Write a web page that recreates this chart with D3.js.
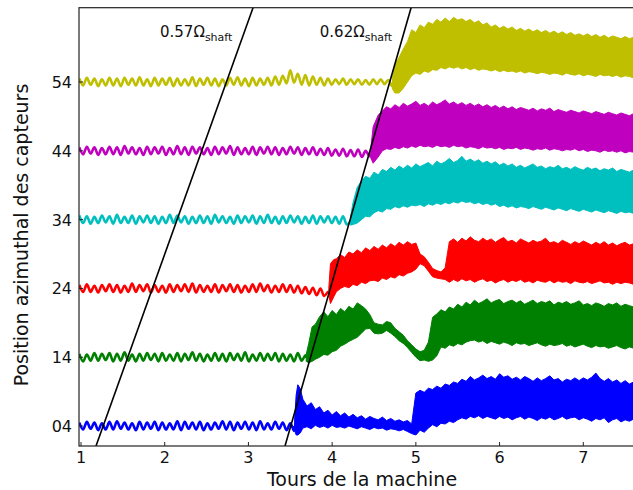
<!DOCTYPE html>
<html><head><meta charset="utf-8">
<script src="https://cdn.jsdelivr.net/npm/d3@7"></script>
<style>body{margin:0;background:#fff}svg{display:block}text{font-family:"DejaVu Sans",sans-serif;fill:#111}</style>
</head><body><svg id="c" width="633" height="490"></svg>
<script>
// ---- data ----
const sensorLabels = ["04","14","24","34","44","54"];
const baselines = [4,14,24,34,44,54];
const seriesColors = ["#0000ff","#008000","#ff0000","#00bfbf","#bf00bf","#bfbf00"];
const xTicks = [1,2,3,4,5,6,7];
const xLabel = "Tours de la machine";
const yLabel = "Position azimuthal des capteurs";
const waveStart = 0.98, waveStep = 0.045, bandStep = 0.05;
// pre-onset oscillation, offsets from baseline in tenths
const blueWave = [5,-5,6,-4,5,-6,4,-5,6,-5,7,-4,5,-5,4,-6,6,-5,5,-4,6,-6,5,-5,4,-5,7,-6,6,-4,5,-5,6,-6,4,-5,5,-4,7,-5,6,-6,5,-4,6,-5,5,-6,7,-5,4,-5,6,-4,5,-6,4,-7];
const greenWave = [5,-6,4,-5,6,-5,5,-4,6,-6,5,-5,7,-5,4,-6,5,-5,6,-4,5,-6,6,-5,4,-5,6,-6,5,-4,7,-5,5,-6,4,-5,6,-5,5,-6,6,-4,5,-5,7,-6,4,-5,6,-5,5,-4,6,-6,5,-5,4,-6,6,-5,3];
const redWave = [5,-5,6,-5,4,-6,5,-4,6,-5,5,-6,4,-5,7,-5,5,-4,6,-6,5,-5,4,-6,6,-5,5,-4,6,-5,7,-6,5,-5,4,-5,6,-6,5,-4,6,-5,5,-6,4,-5,6,-5,7,-4,5,-6,4,-5,6,-5,5,-6,4,-7,2,-8,1,-10,0,-11,-5];
const cyanWave = [6,-5,5,-6,4,-5,6,-4,5,-6,7,-5,4,-5,6,-6,5,-4,6,-5,5,-6,4,-5,7,-5,6,-4,5,-6,4,-5,6,-5,5,-6,7,-4,5,-5,4,-6,6,-5,5,-4,6,-6,5,-5,7,-5,4,-6,5,-5,6,-4,5,-6,4,-5,6,-6,5,-4,5,-5,4,-6,5,-7,-2];
const magentaWave = [5,-5,6,-4,5,-6,4,-5,6,-5,5,-6,7,-4,5,-5,4,-6,6,-5,5,-4,6,-6,4,-5,7,-5,5,-6,6,-4,5,-5,4,-6,6,-5,5,-4,7,-6,5,-5,4,-5,6,-6,5,-4,6,-5,5,-6,4,-5,6,-4,5,-6,4,-5,5,-6,3,-6,4,-7,2,-7,3,-8,1,-8,2,-9,0,-8];
const yellowWave = [5,-5,6,-4,5,-6,4,-5,6,-5,5,-6,6,-4,5,-5,7,-5,4,-6,6,-5,5,-4,6,-6,5,-5,4,-5,7,-6,5,-4,6,-5,5,-6,4,-5,6,-4,7,-5,5,-6,6,-5,5,-4,6,-5,8,-4,9,-2,17,-1,12,-4,10,-5,8,-4,6,-5,5,-4,4,-3,5,-4,4,-3,4,-4,3,-4,4,-3,4,-3,3,-6];
// onset: [turns, low offset, high offset]
const blueHead = [[3.55,-0.5,0.5],[3.57,-1.3,4.5],[3.59,-1.3,6.0],[3.62,-1.0,5.4]];
const greenHead = [[3.69,-0.6,0.4],[3.72,-0.8,2.0],[3.76,-0.6,4.4]];
const redHead = [[3.96,-1.0,0.0],[3.98,-2.2,3.6],[4.02,-1.2,4.2]];
const cyanHead = [[4.22,-0.8,0.5],[4.25,-0.7,2.5],[4.3,-0.5,4.7]];
const magentaHead = [[4.46,-1.0,0.2],[4.49,-1.8,3.5],[4.55,-0.9,5.2]];
const yellowHead = [[4.72,-1.0,0.5],[4.75,-1.6,2.5],[4.8,-1.6,3.6],[4.85,-0.9,4.8]];
// noise envelope after onset, sampled every 0.05 turn from the start turn
const bandStart = [3.65, 3.80, 4.05, 4.35, 4.60, 4.90];
const blueHi = [3.9,2.9,3.4,2.4,2.8,1.9,2.3,1.6,2.1,1.5,1.9,1.3,1.7,1.2,1.5,1.0,1.4,1.1,0.9,1.3,0.8,1.1,0.7,0.9,0.6,0.8,0.3,
  4.8,5.2,4.9,5.5,5.3,5.8,5.5,6.1,5.9,6.4,6.2,6.8,6.5,7.2,6.7,7.0,7.4,6.9,7.2,6.8,7.6,7.1,7.3,6.8,7.1,6.7,7.2,6.9,6.5,7.0,6.6,6.9,7.3,6.7,6.9,6.4,6.8,6.6,7.0,6.6,7.0,6.7,7.1,7.7,6.9,6.5,6.9,6.4,6.7,6.2,6.6,6.1,6.4,6.2,6.4];
const blueLo = [-0.3,-0.1,-0.4,0.1,-0.2,0.0,-0.3,0.1,-0.2,-0.1,-0.3,0.0,-0.2,-0.4,-0.1,-0.3,-0.5,-0.2,-0.4,-0.3,-0.6,-0.4,-0.5,-0.7,-0.5,-0.8,-1.1,
  -1.3,-0.6,-0.9,-0.3,0.2,-0.1,0.4,0.3,0.7,0.5,0.9,1.2,1.0,1.4,1.2,1.5,1.1,1.4,1.2,1.0,1.4,1.1,1.3,0.9,1.2,1.4,1.0,1.3,1.1,0.8,1.2,1.0,1.3,0.9,1.1,1.4,1.0,1.2,1.3,0.9,1.2,1.0,0.7,1.1,0.9,1.2,0.5,0.9,1.1,0.6,0.9,0.7,1.0,0.6,0.9];
const greenHi = [4.8,5.9,6.6,5.9,6.8,6.2,7.1,6.6,7.4,7.0,7.9,7.5,7.0,6.2,5.0,4.8,4.7,5.2,5.0,4.2,3.7,3.2,2.4,1.8,1.2,0.8,1.0,2.2,5.8,6.3,6.9,6.6,7.3,7.0,7.7,7.3,8.0,7.6,8.3,7.8,8.1,8.5,7.9,8.2,8.4,7.8,8.1,8.3,7.9,8.2,7.7,8.0,8.3,7.8,8.1,7.9,8.2,7.6,8.0,7.8,8.1,7.7,7.9,8.2,7.6,7.8,7.5,7.9,7.7,7.4,7.8,7.6,7.9,7.4,7.7,7.5,7.3,7.6,7.5];
const greenLo = [-0.3,0.0,0.4,0.3,0.8,1.0,1.6,1.9,2.3,2.6,2.9,3.5,4.1,4.2,3.5,3.4,3.5,3.9,3.5,3.0,2.4,2.0,1.4,0.7,0.0,-0.5,-0.4,-0.6,-0.4,0.2,1.5,1.3,1.8,1.6,2.0,1.8,2.2,2.4,2.5,2.2,2.4,2.0,2.3,2.1,1.9,2.2,2.0,1.7,2.1,1.9,2.0,1.7,1.9,2.1,1.8,1.6,1.9,1.7,1.8,2.0,1.6,1.8,1.5,1.7,1.9,1.6,1.4,1.7,1.5,1.6,1.3,1.5,1.7,1.4,1.2,1.5,1.3,1.4,1.2];
const redHi = [4.3,4.9,4.5,5.3,5.0,5.6,5.2,5.9,5.5,6.1,5.7,6.3,5.9,6.5,6.1,6.7,6.3,6.8,6.4,6.6,5.0,4.6,3.8,2.9,2.6,2.4,3.0,6.8,7.2,6.7,7.3,6.9,7.5,7.0,6.8,7.3,6.9,7.2,6.7,7.1,7.4,6.8,7.0,6.6,7.2,6.9,6.6,7.0,6.7,6.9,7.3,6.6,6.8,6.5,7.0,6.7,6.4,6.8,6.5,6.9,6.6,6.3,6.7,6.4,6.8,6.3,6.6,6.2,6.5,6.7,6.3,6.5,6.2,6.4];
const redLo = [-0.5,0.0,0.3,0.1,0.6,0.4,0.9,0.7,1.1,1.2,1.0,1.5,1.3,1.7,1.5,2.0,1.8,2.2,2.4,2.8,3.6,3.3,2.5,1.7,1.5,1.4,1.3,0.9,1.3,1.0,1.4,1.1,1.3,0.9,1.2,1.4,1.0,1.2,0.8,1.1,1.3,0.9,1.2,1.0,1.3,0.9,1.1,0.8,1.2,1.0,0.9,1.2,0.8,1.1,0.9,1.0,0.7,1.1,0.9,0.8,1.0,0.7,0.9,1.1,0.8,0.9,0.6,0.9,0.7,0.9,0.8,0.6,0.9,0.7];
const cyanHi = [5.6,6.3,6.0,6.9,6.5,7.3,7.0,7.6,7.2,7.8,7.4,7.9,7.5,8.1,7.7,8.0,8.3,7.8,8.5,8.1,8.4,8.9,8.3,8.6,9.2,8.5,8.8,8.4,8.7,8.2,8.5,8.1,8.4,7.9,8.2,7.8,8.1,7.6,7.9,7.5,7.8,8.1,7.6,7.8,7.4,7.7,7.5,7.9,7.4,7.6,7.3,7.7,7.4,7.2,7.6,7.3,7.5,7.1,7.4,7.2,7.5,7.0,7.3,7.1,6.9,7.2,7.0,7.1];
const cyanLo = [0.0,0.5,0.4,1.0,1.3,1.1,1.6,1.5,1.9,1.7,2.0,1.8,2.1,2.0,2.2,1.9,2.3,2.1,2.4,2.2,2.5,2.3,2.6,2.4,2.7,2.5,2.6,2.3,2.5,2.2,2.4,2.1,2.3,1.9,2.1,1.8,2.0,1.7,1.9,1.8,1.6,1.9,1.7,1.5,1.8,1.6,1.4,1.7,1.5,1.3,1.6,1.4,1.2,1.5,1.3,1.1,1.4,1.2,1.0,1.3,1.1,0.9,1.2,1.0,1.1,0.9,1.0,0.9];
const magentaHi = [5.8,6.4,6.1,6.7,6.3,6.9,6.5,6.8,7.2,6.6,6.9,6.5,7.1,6.7,7.0,7.4,6.8,7.1,6.7,7.0,6.6,6.9,6.5,6.8,6.4,6.7,6.3,6.6,6.2,6.5,6.1,6.4,6.0,6.3,6.1,5.9,6.2,5.8,6.1,5.9,6.2,5.7,6.0,5.8,5.6,5.9,5.7,5.5,5.8,5.6,5.4,5.7,5.5,5.3,5.6,5.4,5.2,5.5,5.3,5.1,5.4,5.2,5.1];
const magentaLo = [0.0,0.3,0.2,0.5,0.3,0.6,0.4,0.7,0.5,0.8,0.6,0.7,0.5,0.8,0.6,0.7,0.5,0.8,0.6,0.7,0.4,0.6,0.5,0.3,0.6,0.4,0.5,0.3,0.5,0.2,0.4,0.3,0.5,0.2,0.4,0.3,0.1,0.3,0.2,0.4,0.1,0.3,0.2,0.0,0.2,0.1,0.3,0.0,0.2,-0.1,0.1,0.0,-0.2,0.1,-0.1,0.0,-0.2,0.0,-0.3,-0.1,-0.2,0.0,-0.2];
const yellowHi = [5.9,7.6,7.2,8.3,7.9,8.7,8.4,9.1,8.7,9.3,8.8,9.4,9.0,9.2,8.8,9.1,8.6,8.9,8.3,8.6,8.0,8.3,7.8,8.1,7.7,8.0,7.5,7.8,7.4,7.7,7.3,7.6,7.2,7.5,7.1,7.4,7.0,7.3,6.9,7.2,6.8,7.0,6.7,7.0,6.6,6.9,6.5,6.8,6.4,6.7,6.5,6.3,6.6,6.3,6.5,6.2,6.4];
const yellowLo = [0.0,0.9,1.3,1.1,1.6,1.4,1.8,1.7,2.1,1.9,2.2,2.0,2.2,1.9,2.1,1.8,2.0,1.7,1.9,1.8,1.6,1.8,1.5,1.7,1.5,1.6,1.4,1.6,1.3,1.5,1.4,1.2,1.4,1.3,1.1,1.3,1.2,1.0,1.3,1.1,1.0,1.2,0.9,1.1,1.0,0.8,1.1,0.9,1.0,0.8,1.0,0.7,0.9,0.8,0.6,0.9,0.7];
// propagation lines: turn at bottom, turn at top of axis
const rateLabels = ["0.57", "0.62"];
const rateStart = [1.179, 3.437];
const rateEnd = [3.055, 4.943];

// ---- chart ----
const waves = [blueWave, greenWave, redWave, cyanWave, magentaWave, yellowWave];
const heads = [blueHead, greenHead, redHead, cyanHead, magentaHead, yellowHead];
const his = [blueHi, greenHi, redHi, cyanHi, magentaHi, yellowHi];
const los = [blueLo, greenLo, redLo, cyanLo, magentaLo, yellowLo];
const series = sensorLabels.map((s,i)=>({
  label:s, base:baselines[i], color:seriesColors[i], wave:waves[i],
  band: heads[i].concat(his[i].map((h,j)=>[bandStart[i]+j*bandStep, los[i][j], h]))
}));

const L=79, T=7.7, B=446, R=667;
const yMin=1.1, yMax=64.8;
const x = d3.scaleLinear().domain([0.976, 8.0]).range([L, R]);
const y = d3.scaleLinear().domain([yMin, yMax]).range([B, T]);
const svg = d3.select("#c");
svg.append("defs").append("clipPath").attr("id","clip").append("rect")
  .attr("x",L).attr("y",T).attr("width",R-L).attr("height",B-T);
const g = svg.append("g").attr("clip-path","url(#clip)");

const line = d3.line().x(d=>x(d[0])).y(d=>y(d[1])).curve(d3.curveCatmullRom.alpha(0.5));
const area = d3.area().x(d=>x(d[0])).y0(d=>y(d[1])).y1(d=>y(d[2]));

series.forEach(s=>{
  const pts = s.wave.map((v,i)=>[waveStart+i*waveStep, s.base+v/10]);
  const b0 = s.band[0];
  pts.push([b0[0], s.base+(b0[1]+b0[2])/2]);
  g.append("path").attr("d", line(pts)).attr("fill","none")
   .attr("stroke", s.color).attr("stroke-width",2.6).attr("stroke-linejoin","round");
  const bp = s.band.map(d=>[d[0], s.base+d[1], s.base+d[2]]);
  g.append("path").attr("d", area(bp)).attr("fill", s.color)
   .attr("stroke", s.color).attr("stroke-width",1).attr("stroke-linejoin","miter");
});

// propagation lines
rateLabels.forEach((lab,i)=>{
  g.append("line").attr("x1",x(rateStart[i])).attr("y1",y(yMin))
   .attr("x2",x(rateEnd[i])).attr("y2",y(yMax)).attr("stroke","#000").attr("stroke-width",1.6);
  const ty = 37;
  const lx = x(rateStart[i] + (rateEnd[i]-rateStart[i])*((B-(ty-5))/(B-T)));
  const t = svg.append("text").attr("x", lx-12).attr("y", ty).attr("text-anchor","end").attr("font-size",15);
  t.append("tspan").text(lab+"Ω");
  t.append("tspan").attr("font-size",11).attr("dy",4).text("shaft");
});

// frame
svg.append("rect").attr("x",L).attr("y",T).attr("width",R-L).attr("height",B-T)
  .attr("fill","none").attr("stroke","#222").attr("stroke-width",1.2);

// x ticks
xTicks.forEach(v=>{
  svg.append("line").attr("x1",x(v)).attr("x2",x(v)).attr("y1",B).attr("y2",B-4).attr("stroke","#222");
  svg.append("text").attr("x",x(v)).attr("y",463).attr("text-anchor","middle").attr("font-size",16).text(v);
});
// y ticks
series.forEach(s=>{
  svg.append("line").attr("x1",L).attr("x2",L+4).attr("y1",y(s.base)).attr("y2",y(s.base)).attr("stroke","#222");
  svg.append("text").attr("x",72).attr("y",y(s.base)+6).attr("text-anchor","end").attr("font-size",16).text(s.label);
});
svg.append("text").attr("x",362).attr("y",486).attr("text-anchor","middle").attr("font-size",19).text(xLabel);
svg.append("text").attr("transform","translate(28,235) rotate(-90)").attr("text-anchor","middle").attr("font-size",19).text(yLabel);
</script>
</body></html>
